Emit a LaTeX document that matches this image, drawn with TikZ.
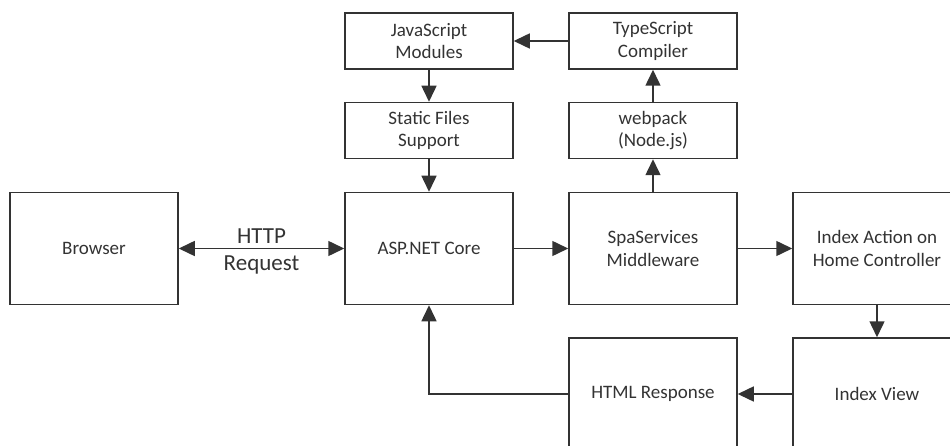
\documentclass[tikz,border=0pt]{standalone}
\usepackage{fontspec}
\setmainfont{Carlito}
\usetikzlibrary{positioning, arrows.meta}

\begin{document}
\begin{tikzpicture}
	[x=1pt, y=-1pt, on grid, node distance=224pt,
	 >={Triangle[length=16pt,width=15pt]},
	 bigbox/.style={draw=black!80, line width=1.5pt, minimum width=168pt, minimum height=112pt,
	   align=center, text=black!80, font=\fontsize{19}{22.5}\selectfont},
	 smallbox/.style={bigbox, minimum height=56pt},
	 link/.style={draw=black!80, line width=1.5pt, ->}]
   \useasboundingbox (0,0) rectangle (950,446);
   \clip (0,0) rectangle (950,446);
   \node[bigbox] (asp) at (429,248.5) {ASP.NET Core};
   \node[bigbox] (browser) [left=335pt of asp] {Browser};
   \node[bigbox] (spa) [right=of asp] {SpaServices\\Middleware};
   \node[bigbox] (action) [right=of spa] {Index Action on\\Home Controller};
   \node[bigbox] (view) [below=145.5pt of action] {Index View};
   \node[bigbox] (html) [left=of view] {HTML Response};
   \node[smallbox] (static) [above=118pt of asp] {Static Files\\Support};
   \node[smallbox] (js) [above=89.5pt of static] {JavaScript\\Modules};
   \node[smallbox] (webpack) [above=118pt of spa] {webpack\\(Node.js)};
   \node[smallbox] (tsc) [above=89.5pt of webpack] {TypeScript\\Compiler};
    \draw[link, <->] (browser) -- node[above, inner sep=4pt, font=\fontsize{23}{27}\selectfont, text=black!80] {HTTP}
    	node[below, inner sep=6pt, font=\fontsize{23}{27}\selectfont, text=black!80] {Request} (asp);
    \draw[link] (asp) -- (spa);
    \draw[link] (spa) -- (action);
    \draw[link] (action) -- (view);
    \draw[link] (view) -- (html);
    \draw[link] (html.west) -| (asp.south);
    \draw[link] (spa) -- (webpack);
    \draw[link] (webpack) -- (tsc);
    \draw[link] (tsc) -- (js);
    \draw[link] (js) -- (static);
    \draw[link] (static) -- (asp);
\end{tikzpicture}
\end{document}
